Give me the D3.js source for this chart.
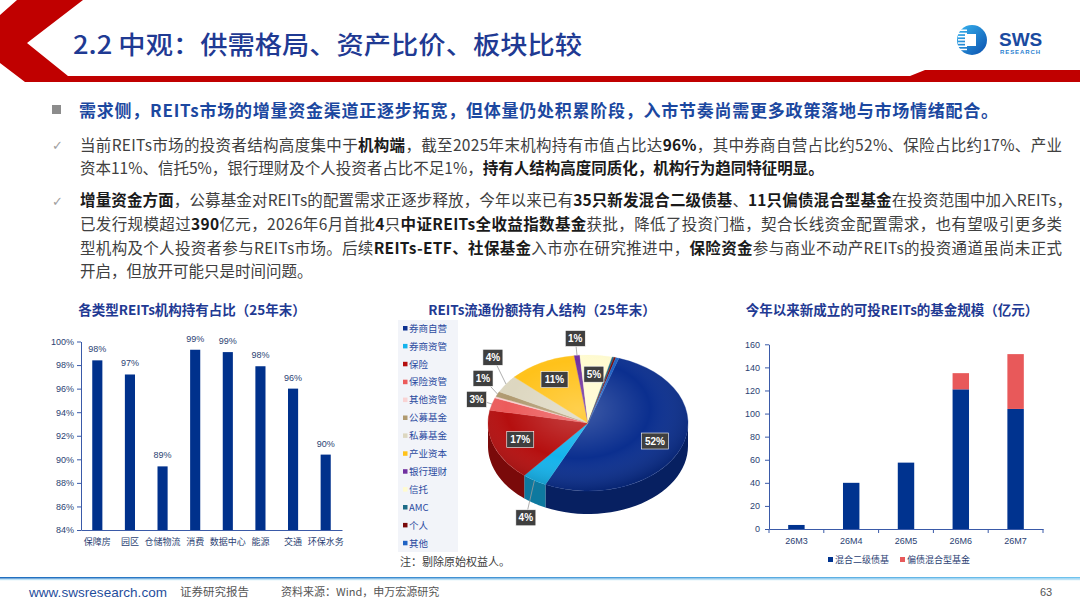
<!DOCTYPE html>
<html>
<head>
<meta charset="utf-8">
<script src="https://cdn.jsdelivr.net/npm/d3@7"></script>
<style>
  body { margin: 0; background: #fff; }
  svg { display: block; }
</style>
</head>
<body>
<div id="slide"></div>
<script>
// ---- data ----
const slideTitle = "2.2 中观：供需格局、资产比价、板块比较";
const headline = "需求侧，REITs市场的增量资金渠道正逐步拓宽，但体量仍处积累阶段，入市节奏尚需更多政策落地与市场情绪配合。";
const para1 = [
  [["当前REITs市场的投资者结构高度集中于", 0], ["机构端", 1], ["，截至2025年末机构持有市值占比达", 0], ["96%", 1], ["，其中券商自营占比约52%、保险占比约17%、产业", 0]],
  [["资本11%、信托5%，银行理财及个人投资者占比不足1%，", 0], ["持有人结构高度同质化，机构行为趋同特征明显。", 1]]
];
const para2 = [
  [["增量资金方面", 1], ["，公募基金对REITs的配置需求正逐步释放，今年以来已有", 0], ["35只新发混合二级债基", 1], ["、", 0], ["11只偏债混合型基金", 1], ["在投资范围中加入REITs，", 0]],
  [["已发行规模超过", 0], ["390", 1], ["亿元，2026年6月首批", 0], ["4", 1], ["只", 0], ["中证REITs全收益指数基金", 1], ["获批，降低了投资门槛，契合长线资金配置需求，也有望吸引更多类", 0]],
  [["型机构及个人投资者参与REITs市场。后续", 0], ["REITs-ETF、社保基金", 1], ["入市亦在研究推进中，", 0], ["保险资金", 1], ["参与商业不动产REITs的投资通道虽尚未正式", 0]],
  [["开启，但放开可能只是时间问题。", 0]]
];

const holdTitle = "各类型REITs机构持有占比（25年末）";
const holdCats = ["保障房", "园区", "仓储物流", "消费", "数据中心", "能源", "交通", "环保水务"];
const holdVals = [0.984, 0.972, 0.894, 0.993, 0.991, 0.979, 0.960, 0.904];
const holdTicks = [0.84, 0.86, 0.88, 0.90, 0.92, 0.94, 0.96, 0.98, 1.00];

const pieTitle = "REITs流通份额持有人结构（25年末）";
const pieNames = ["券商自营", "券商资管", "保险", "保险资管", "其他资管", "公募基金", "私募基金", "产业资本", "银行理财", "信托", "AMC", "个人", "其他"];
const pieVals = [52, 4, 17, 3, 0.4, 1.2, 4.2, 11, 0.9, 5.2, 0.3, 0.3, 0.5];
const pieColors = ["#0b2f8f", "#14b3ec", "#b50f0f", "#ec5b5b", "#f9d3d3", "#b09a70", "#ddd7c0", "#ffc21a", "#7030a0", "#fffbd0", "#1d6b87", "#7a0a0a", "#1f62c4"];
const pieNote = "注：剔除原始权益人。";

const fundTitle = "今年以来新成立的可投REITs的基金规模（亿元）";
const fundMonths = ["26M3", "26M4", "26M5", "26M6", "26M7"];
const fundMixed2 = [3.5, 40, 57.5, 121, 104];
const fundBiased = [0, 0, 0, 14, 47.5];
const fundKeys = ["混合二级债基", "偏债混合型基金"];
const fundColors = ["#00338f", "#e8595a"];
const fundTicks = [0, 20, 40, 60, 80, 100, 120, 140, 160];

// ---- canvas ----
const W = 1080, H = 608;
const CJK = "'Noto Sans CJK SC', 'Noto Sans', sans-serif";
const NUM = "'Liberation Sans', 'Noto Sans CJK SC', sans-serif";
const blue = "#1f3a93";

const svg = d3.select("#slide").append("svg")
  .attr("width", W).attr("height", H)
  .attr("font-family", CJK);

const defs = svg.append("defs");

// header band
svg.append("path")
  .attr("d", "M17,0 L83,0 L27,43 L68,76 L910,76 L925,70 L1080,70 L1080,82 L25,82 L0,63 L0,15 Z")
  .attr("fill", "#c00000");

svg.append("text")
  .attr("x", 73).attr("y", 54)
  .attr("font-size", 25).attr("font-weight", 500)
  .attr("fill", "#1f3a93")
  .attr("textLength", 509).attr("lengthAdjust", "spacingAndGlyphs")
  .text(slideTitle);

// logo
const lg = defs.append("linearGradient").attr("id", "logoGrad")
  .attr("x1", 0).attr("y1", 0).attr("x2", 1).attr("y2", 1);
lg.append("stop").attr("offset", "0%").attr("stop-color", "#38b6f0");
lg.append("stop").attr("offset", "100%").attr("stop-color", "#0a4fae");
const logo = svg.append("g");
logo.append("circle").attr("cx", 972).attr("cy", 40).attr("r", 15).attr("fill", "url(#logoGrad)");
d3.range(7).forEach(i => {
  logo.append("rect").attr("x", 958).attr("y", 29.5 + i * 3.2).attr("width", 9).attr("height", 1.5).attr("fill", "#fff");
});
logo.append("rect").attr("x", 965).attr("y", 34).attr("width", 11).attr("height", 12).attr("fill", "#fff");
logo.append("text").attr("x", 999).attr("y", 46)
  .attr("font-family", NUM).attr("font-size", 19).attr("font-weight", 700)
  .attr("fill", "#1a4aa0").text("SWS");
logo.append("text").attr("x", 1000).attr("y", 54)
  .attr("font-family", NUM).attr("font-size", 6).attr("font-weight", 700)
  .attr("fill", "#2a7fd0").attr("textLength", 40).text("RESEARCH");

// ---- body text ----
const body = svg.append("g");
body.append("rect").attr("x", 52).attr("y", 105).attr("width", 9).attr("height", 9).attr("fill", "#8c8c8c");
body.append("text").attr("x", 79).attr("y", 117)
  .attr("font-size", 17).attr("font-weight", 700).attr("fill", "#1c48a0")
  .attr("textLength", 919).attr("lengthAdjust", "spacing")
  .text(headline);

function richLine(x, y, segs, width) {
  const t = body.append("text").attr("x", x).attr("y", y).attr("font-size", 15.5);
  segs.forEach(s => {
    t.append("tspan").text(s[0])
      .attr("font-weight", s[1] ? 700 : 400)
      .attr("fill", s[1] ? "#1a1a1a" : "#404040");
  });
  if (width) t.attr("textLength", width).attr("lengthAdjust", "spacing");
}
function check(y) {
  body.append("text").attr("x", 52).attr("y", y).attr("font-family", "'DejaVu Sans'")
    .attr("font-size", 13).attr("fill", "#a0a0a0").text("✓");
}
check(150);
richLine(80, 151, para1[0], 982);
richLine(80, 174, para1[1], null);
check(206);
richLine(80, 206, para2[0], 992);
richLine(80, 230, para2[1], 982);
richLine(80, 254, para2[2], 982);
richLine(80, 277, para2[3], null);

function chartTitle(x, y, txt) {
  svg.append("text").attr("x", x).attr("y", y).attr("text-anchor", "middle")
    .attr("font-size", 13.5).attr("font-weight", 700).attr("fill", blue).text(txt);
}

function styleAxis(g) {
  g.selectAll(".domain").attr("stroke", "#3a5aa8");
  g.selectAll(".tick line").attr("stroke", "#3a5aa8");
  g.selectAll(".tick text").attr("fill", "#2b3f73").attr("font-size", 9).attr("font-family", NUM);
}

// ---- left chart: holding ratio ----
chartTitle(192, 315, holdTitle);
const hx = d3.scaleBand().domain(holdCats).range([81, 342]).paddingInner(0.69).paddingOuter(0.345);
const hy = d3.scaleLinear().domain([0.84, 1]).range([530, 341.5]);
const hg = svg.append("g");
hg.selectAll("rect").data(holdVals).enter().append("rect")
  .attr("x", (d, i) => hx(holdCats[i]))
  .attr("y", d => hy(d))
  .attr("width", hx.bandwidth())
  .attr("height", d => hy(0.84) - hy(d))
  .attr("fill", "#00318c");
hg.selectAll("text.lbl").data(holdVals).enter().append("text")
  .attr("class", "lbl")
  .attr("x", (d, i) => hx(holdCats[i]) + hx.bandwidth() / 2)
  .attr("y", d => hy(d) - 8)
  .attr("text-anchor", "middle").attr("font-family", NUM).attr("font-size", 9)
  .attr("fill", "#2b3f73")
  .text(d => d3.format(".0%")(d));
hg.append("g").attr("transform", "translate(81,0)")
  .call(d3.axisLeft(hy).tickValues(holdTicks).tickFormat(d3.format(".0%")).tickSize(4).tickSizeOuter(0).tickPadding(3))
  .call(styleAxis);
hg.append("g").attr("transform", "translate(0,530)")
  .call(d3.axisBottom(hx).tickSize(0).tickPadding(9))
  .call(styleAxis)
  .call(g => g.selectAll(".tick text").attr("font-family", CJK));

// ---- middle chart: 3D pie ----
chartTitle(542, 315, pieTitle);
const leg = svg.append("g");
leg.append("rect").attr("x", 398).attr("y", 320).attr("width", 60).attr("height", 232).attr("fill", "#f2f4f9");
pieNames.forEach((n, i) => {
  const ly = 328.5 + i * 17.9;
  leg.append("rect").attr("x", 403).attr("y", ly - 2.5).attr("width", 4.5).attr("height", 4.5).attr("fill", pieColors[i]);
  leg.append("text").attr("x", 409).attr("y", ly + 3.2).attr("font-size", 9.5)
    .attr("fill", "#2a4aa0").text(n);
});

const cx = 588, cy = 423, rx = 100, ry = 68, depth = 23;
const pie = d3.pie().sort(null).value(d => d)
  .startAngle(18 * Math.PI / 180).endAngle(18 * Math.PI / 180 + 2 * Math.PI);
const arcs = pie(pieVals);
const pt = (a, k, kx) => [cx + rx * (kx || k) * Math.sin(a), cy - ry * k * Math.cos(a)];

// side walls of the front half
const walls = svg.append("g");
arcs.forEach((d, i) => {
  const a0 = Math.max(d.startAngle, Math.PI / 2), a1 = Math.min(d.endAngle, 3 * Math.PI / 2);
  if (a1 <= a0) return;
  const steps = d3.range(0, 31).map(j => a0 + (a1 - a0) * j / 30);
  const top = steps.map(a => pt(a, 1));
  const bot = steps.slice().reverse().map(a => { const p = pt(a, 1); return [p[0], p[1] + depth]; });
  walls.append("path")
    .attr("d", "M" + top.concat(bot).map(p => p.join(",")).join("L") + "Z")
    .attr("fill", d3.color(pieColors[i]).darker(1.1));
});

// top faces
const faces = svg.append("g").attr("transform", `translate(${cx},${cy}) scale(1,${ry / rx})`);
const arcGen = d3.arc().innerRadius(0).outerRadius(rx);
faces.selectAll("path").data(arcs).enter().append("path")
  .attr("d", arcGen)
  .attr("fill", (d, i) => pieColors[i])
  .attr("stroke", (d, i) => pieColors[i]).attr("stroke-width", 0.4);
const gloss = defs.append("radialGradient").attr("id", "gloss")
  .attr("cx", "45%").attr("cy", "40%").attr("r", "60%");
gloss.append("stop").attr("offset", "0%").attr("stop-color", "#fff").attr("stop-opacity", 0.22);
gloss.append("stop").attr("offset", "60%").attr("stop-color", "#fff").attr("stop-opacity", 0);
gloss.append("stop").attr("offset", "100%").attr("stop-color", "#000").attr("stop-opacity", 0.18);
faces.append("circle").attr("r", rx).attr("fill", "url(#gloss)");

// labels
const labels = arcs.map((d, i) => {
  const v = pieVals[i];
  if (v < 0.8) return null;
  const mid = (d.startAngle + d.endAngle) / 2;
  const inside = v >= 5;
  const p = inside ? pt(mid, 0.72) : pt(mid, 1.25, 1.16);
  if (!inside && Math.cos(mid) < 0) p[1] += depth;
  return { i, mid, inside, x: p[0], y: p[1], edge: pt(mid, 1), text: Math.round(v) + "%" };
}).filter(Boolean);
const outside = labels.filter(l => !l.inside).sort((a, b) => b.y - a.y);
outside.forEach((l, k) => {
  outside.slice(0, k).forEach(o => {
    if (Math.abs(o.x - l.x) < 40 && l.y > o.y - 21) l.y = o.y - 21;
  });
});
const lblG = svg.append("g");
outside.forEach(l => {
  lblG.append("line").attr("x1", l.edge[0]).attr("y1", l.edge[1]).attr("x2", l.x).attr("y2", l.y)
    .attr("stroke", "#9a9a9a").attr("stroke-width", 0.8);
});
labels.forEach(l => {
  const w = l.text.length > 2 ? 27 : 20;
  lblG.append("rect").attr("x", l.x - w / 2).attr("y", l.y - 8).attr("width", w).attr("height", 16)
    .attr("fill", "#3f3f3f").attr("stroke", "#fff").attr("stroke-width", 0.6);
  lblG.append("text").attr("x", l.x).attr("y", l.y + 3.6).attr("text-anchor", "middle")
    .attr("font-family", NUM).attr("font-size", 10).attr("font-weight", 700).attr("fill", "#fff")
    .text(l.text);
});
svg.append("text").attr("x", 400).attr("y", 566).attr("font-size", 11).attr("fill", "#404040").text(pieNote);

// ---- right chart: stacked funds ----
chartTitle(892, 315, fundTitle);
const fx = d3.scaleBand().domain(fundMonths).range([769, 1043]).paddingInner(0.7).paddingOuter(0.35);
const fy = d3.scaleLinear().domain([0, 160]).range([529, 344.3]);
const rows = fundMonths.map((m, i) => ({ month: m, [fundKeys[0]]: fundMixed2[i], [fundKeys[1]]: fundBiased[i] }));
const stacked = d3.stack().keys(fundKeys)(rows);
const fg = svg.append("g");
fg.selectAll("g.series").data(stacked).enter().append("g")
  .attr("fill", (d, i) => fundColors[i])
  .selectAll("rect").data(d => d.filter(p => p[1] > p[0])).enter().append("rect")
  .attr("x", d => fx(d.data.month))
  .attr("y", d => fy(d[1]))
  .attr("width", fx.bandwidth())
  .attr("height", d => fy(d[0]) - fy(d[1]));
fg.append("g").attr("transform", "translate(769,0)")
  .call(d3.axisLeft(fy).tickValues(fundTicks).tickSize(4).tickSizeOuter(0).tickPadding(5))
  .call(styleAxis);
fg.append("g").attr("transform", "translate(0,529)")
  .call(d3.axisBottom(fx).tickSize(0).tickPadding(9).tickSizeOuter(0))
  .call(styleAxis);
const bounds = fundMonths.map(m => fx(m) + fx.bandwidth() / 2 - fx.step() / 2)
  .concat([fx(fundMonths[fundMonths.length - 1]) + fx.bandwidth() / 2 + fx.step() / 2]);
fg.selectAll("line.bound").data(bounds).enter().append("line")
  .attr("x1", d => d).attr("x2", d => d).attr("y1", 529).attr("y2", 533)
  .attr("stroke", "#3a5aa8");
fundKeys.forEach((k, i) => {
  const lx = [828, 900][i];
  fg.append("rect").attr("x", lx).attr("y", 557).attr("width", 5).attr("height", 5).attr("fill", fundColors[i]);
  fg.append("text").attr("x", lx + 7).attr("y", 563).attr("font-size", 9).attr("fill", "#2b3f73").text(k);
});

// ---- footer ----
const fl = defs.append("linearGradient").attr("id", "footGrad");
fl.append("stop").attr("offset", "0%").attr("stop-color", "#1f6fc0");
fl.append("stop").attr("offset", "100%").attr("stop-color", "#6fc3ee");
svg.append("rect").attr("x", 0).attr("y", 577).attr("width", W).attr("height", 1.6).attr("fill", "url(#footGrad)");
svg.append("rect").attr("x", 0).attr("y", 579).attr("width", W).attr("height", 1.2).attr("fill", "#bfe3f6");
svg.append("text").attr("x", 29).attr("y", 597).attr("font-family", NUM).attr("font-size", 13.5)
  .attr("fill", "#1f4e9c").attr("textLength", 138).text("www.swsresearch.com");
svg.append("text").attr("x", 180).attr("y", 596).attr("font-size", 11.5).attr("fill", "#555").text("证券研究报告");
svg.append("text").attr("x", 281).attr("y", 596).attr("font-size", 11).attr("fill", "#555").text("资料来源：Wind，申万宏源研究");
svg.append("text").attr("x", 1040).attr("y", 596).attr("font-family", NUM).attr("font-size", 11).attr("fill", "#555").text("63");
</script>
</body>
</html>
